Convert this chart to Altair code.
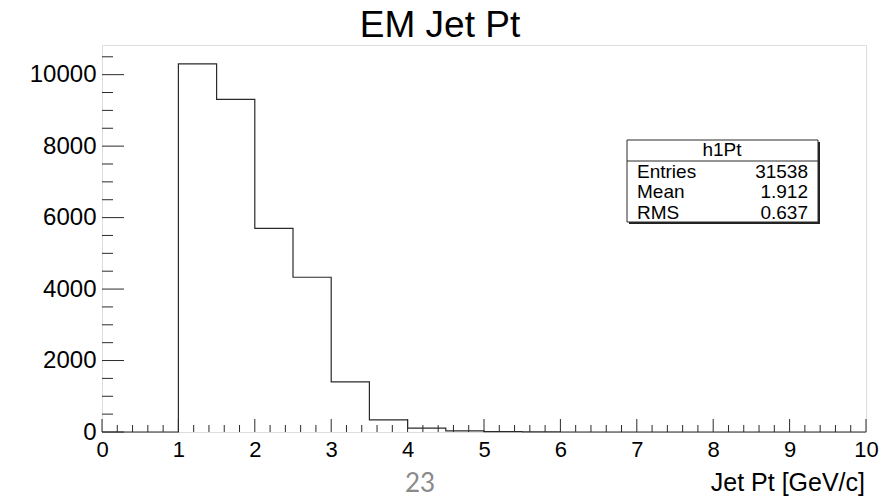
import altair as alt
import pandas as pd

# ---- data ----
bin_lo = [1.0, 1.5, 2.0, 2.5, 3.0, 3.5, 4.0, 4.5, 5.0, 5.5]
counts = [10300, 9310, 5700, 4330, 1400, 340, 110, 30, 12, 6]
x_major = [0, 1, 2, 3, 4, 5, 6, 7, 8, 9, 10]
y_major = [0, 2000, 4000, 6000, 8000, 10000]
stat_names = ["Entries", "Mean", "RMS"]
stat_values = ["31538", "1.912", "0.637"]
hist_name = "h1Pt"
title_text = "EM Jet Pt"
x_title = "Jet Pt [GeV/c]"
page_no = "23"

W, H = 764, 387
FONT = "Liberation Sans"
LINE = "#2a2a2a"

# step outline: (0,0) -> bins -> back to 0 at upper edge -> along 0 to 10
xs = [0.0] + bin_lo + [bin_lo[-1] + 0.5, 10.0]
ys = [0] + counts + [0, 0]
hist_df = pd.DataFrame({"x": xs, "y": ys})

x_minor = [i / 5 for i in range(0, 51) if i % 5 != 0]
y_minor = [v for v in range(0, 10501, 500) if v % 2000 != 0]

xscale = alt.Scale(domain=[0, 10], nice=False, zero=False)
yscale = alt.Scale(domain=[0, 10830], nice=False)

hist = alt.Chart(hist_df).mark_line(
    interpolate="step-after", color=LINE, strokeWidth=1.2
).encode(
    x=alt.X("x:Q", scale=xscale,
            axis=alt.Axis(values=x_major, title=None, ticks=False, domain=False, grid=False,
                          labelFont=FONT, labelFontSize=22, labelColor="black",
                          labelPadding=7, labelFlush=False, format="d")),
    y=alt.Y("y:Q", scale=yscale,
            axis=alt.Axis(values=y_major, title=None, ticks=False, domain=False, grid=False,
                          labelFont=FONT, labelFontSize=24, labelColor="black",
                          labelPadding=6, format="d")),
)

def xticks(vals, length):
    return alt.Chart(pd.DataFrame({"v": vals})).mark_rule(color=LINE, strokeWidth=1).encode(
        x=alt.X("v:Q", scale=xscale), y=alt.value(H), y2=alt.value(H - length))

def yticks(vals, length):
    return alt.Chart(pd.DataFrame({"v": vals})).mark_rule(color=LINE, strokeWidth=1).encode(
        y=alt.Y("v:Q", scale=yscale), x=alt.value(0), x2=alt.value(length))

def label(text, x, y, size, align="left", color="black", font=FONT):
    return alt.Chart(pd.DataFrame({"t": [text]})).mark_text(
        align=align, baseline="alphabetic", fontSize=size, font=font, color=color
    ).encode(x=alt.value(x), y=alt.value(y), text="t:N")

def box(x1, x2, y1, y2, fill, stroke, sw):
    return alt.Chart(pd.DataFrame({"a": [0]})).mark_rect(
        fill=fill, stroke=stroke, strokeWidth=sw
    ).encode(x=alt.value(x1), x2=alt.value(x2), y=alt.value(y1), y2=alt.value(y2))

bx1, bx2, by1, by2 = 525, 716, 95, 177
stats = [
    box(bx1 + 2, bx2 + 2, by1 + 2, by2 + 2, "#222", "#222", 0),
    box(bx1, bx2, by1, by2, "white", LINE, 1),
    alt.Chart(pd.DataFrame({"a": [0]})).mark_rule(color=LINE, strokeWidth=1).encode(
        x=alt.value(bx1), x2=alt.value(bx2), y=alt.value(116)),
    label(hist_name, 620, 111, 19, align="center"),
]
row_y = [133, 153, 174]
for n, v, yy in zip(stat_names, stat_values, row_y):
    stats.append(label(n, 535, yy, 19))
    stats.append(label(v, 706, yy, 19, align="right"))

chart = alt.layer(
    hist,
    xticks(x_major, 13), xticks(x_minor, 7),
    yticks(y_major, 22), yticks(y_minor, 11),
    *stats,
    label(title_text, 338, -8, 37, align="center"),
    label(x_title, 763, 446, 25, align="right"),
    label(page_no, 318, 447, 26, align="center", color="#8a8a8a", font="Lato"),
).properties(
    width=W, height=H,
    autosize=alt.AutoSizeParams(type="none"),
    padding={"left": 102, "top": 45, "right": 25, "bottom": 65},
).configure_view(stroke=LINE, strokeWidth=1.2).configure(background="white")

chart.save("out.html", embed_options={"renderer": "svg", "actions": False})
